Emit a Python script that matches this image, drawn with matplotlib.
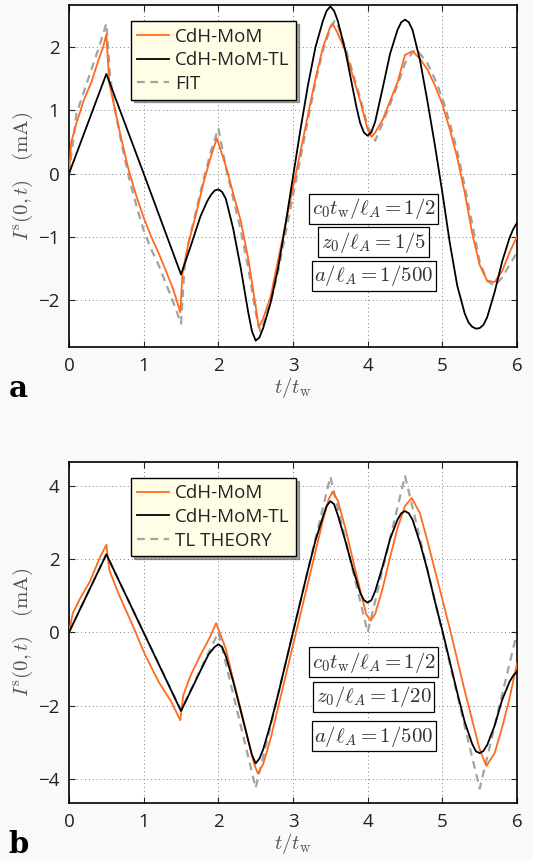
import matplotlib
matplotlib.use("Agg")
import matplotlib.pyplot as plt
from matplotlib.ticker import MultipleLocator

plt.rcParams['font.family'] = ['Open Sans', 'DejaVu Sans']
plt.rcParams['mathtext.fontset'] = 'cm'

# ---- panel a ----------------------------------------------------------
a_mom_t = [0.0, 0.03, 0.1, 0.2, 0.3, 0.4, 0.45, 0.5, 0.54, 0.6, 0.7, 0.8, 0.9, 1.0,
           1.1, 1.2, 1.3, 1.4, 1.49, 1.52, 1.6, 1.7, 1.8, 1.9, 1.98, 2.1, 2.2, 2.3,
           2.4, 2.5, 2.54, 2.6, 2.7, 2.8, 2.9, 3.0, 3.1, 3.2, 3.3, 3.4, 3.5, 3.53,
           3.6, 3.7, 3.8, 3.9, 4.0, 4.05, 4.1, 4.2, 4.3, 4.4, 4.5, 4.6, 4.7, 4.8,
           4.9, 5.0, 5.1, 5.2, 5.3, 5.4, 5.5, 5.6, 5.7, 5.8, 5.9, 6.0]
a_mom_v = [0.0, 0.5, 0.8, 1.17, 1.45, 1.82, 1.98, 2.2, 1.43, 1.1, 0.55, 0.05, -0.35, -0.7,
           -1.0, -1.26, -1.55, -1.85, -2.2, -1.57, -1.1, -0.65, -0.15, 0.27, 0.56, 0.12, -0.32, -0.75,
           -1.35, -2.1, -2.44, -2.3, -1.95, -1.37, -0.8, -0.22, 0.35, 0.93, 1.5, 2.0, 2.33, 2.38,
           2.22, 1.95, 1.55, 1.15, 0.7, 0.58, 0.65, 0.85, 1.15, 1.45, 1.88, 1.94, 1.82, 1.65,
           1.4, 1.1, 0.7, 0.25, -0.3, -0.95, -1.45, -1.7, -1.72, -1.55, -1.25, -1.0]

a_tl_t = [0.0, 0.5, 1.0, 1.5, 1.63, 1.76, 1.85, 1.9, 1.95, 2.0, 2.05, 2.1, 2.2, 2.3,
          2.35, 2.4, 2.45, 2.5, 2.55, 2.6, 2.7, 2.8, 2.9, 3.0, 3.1, 3.2, 3.3, 3.4,
          3.45, 3.5, 3.55, 3.6, 3.7, 3.8, 3.85, 3.9, 3.95, 4.0, 4.05, 4.1, 4.2, 4.3,
          4.4, 4.45, 4.5, 4.55, 4.6, 4.7, 4.8, 4.9, 5.0, 5.1, 5.2, 5.3, 5.35, 5.4,
          5.45, 5.5, 5.55, 5.6, 5.7, 5.8, 5.9, 5.95, 6.0]
a_tl_v = [0.0, 1.58, 0.0, -1.6, -1.15, -0.68, -0.44, -0.34, -0.27, -0.25, -0.29, -0.4, -0.88, -1.5,
          -1.85, -2.2, -2.5, -2.65, -2.6, -2.45, -2.05, -1.5, -0.8, -0.05, 0.7, 1.4, 2.0, 2.42,
          2.58, 2.65, 2.58, 2.42, 1.95, 1.35, 1.05, 0.8, 0.65, 0.6, 0.66, 0.82, 1.35, 1.9,
          2.28, 2.4, 2.44, 2.4, 2.28, 1.8, 1.15, 0.45, -0.3, -1.1, -1.78, -2.22, -2.36, -2.43,
          -2.46, -2.45, -2.4, -2.28, -1.88, -1.4, -1.02, -0.88, -0.78]

a_fit_t = [0.0, 0.1, 0.2, 0.3, 0.4, 0.5, 0.55, 0.6, 0.7, 0.8, 0.9, 1.0, 1.1, 1.2, 1.3,
           1.4, 1.5, 1.55, 1.6, 1.7, 1.8, 1.9, 2.0, 2.1, 2.2, 2.3, 2.4, 2.5, 2.56, 2.6,
           2.7, 2.8, 2.9, 3.0, 3.1, 3.2, 3.3, 3.4, 3.5, 3.56, 3.6, 3.7, 3.8, 3.9, 4.0,
           4.1, 4.2, 4.3, 4.4, 4.5, 4.6, 4.65, 4.7, 4.8, 4.9, 5.0, 5.1, 5.2, 5.3, 5.4,
           5.5, 5.6, 5.7, 5.8, 5.9, 6.0]
a_fit_v = [0.0, 0.95, 1.3, 1.65, 2.0, 2.38, 1.55, 1.1, 0.5, -0.05, -0.5, -0.9, -1.2, -1.45, -1.75,
           -2.05, -2.38, -1.45, -1.1, -0.6, -0.1, 0.35, 0.72, 0.1, -0.4, -0.9, -1.5, -2.2, -2.5, -2.4,
           -2.05, -1.55, -0.95, -0.35, 0.25, 0.85, 1.45, 1.95, 2.3, 2.43, 2.35, 2.0, 1.6, 1.2, 0.75,
           0.52, 0.8, 1.1, 1.4, 1.75, 1.92, 1.97, 1.9, 1.75, 1.5, 1.2, 0.8, 0.35, -0.2, -0.8,
           -1.4, -1.7, -1.78, -1.65, -1.45, -1.25]

# ---- panel b ----------------------------------------------------------
b_mom_t = [0.0, 0.05, 0.15, 0.28, 0.41, 0.5, 0.54, 0.67, 0.85, 1.02, 1.2, 1.37, 1.49, 1.53,
           1.63, 1.76, 1.89, 1.97, 2.1, 2.2, 2.3, 2.4, 2.48, 2.53, 2.6, 2.7, 2.8, 2.9, 3.0,
           3.1, 3.2, 3.3, 3.4, 3.48, 3.53, 3.6, 3.7, 3.8, 3.9, 3.98, 4.04, 4.1, 4.2, 4.3,
           4.4, 4.5, 4.59, 4.7, 4.8, 4.9, 5.0, 5.1, 5.2, 5.3, 5.4, 5.5, 5.59, 5.7, 5.8,
           5.9, 6.0]
b_mom_v = [0.0, 0.52, 0.93, 1.39, 2.03, 2.39, 1.7, 1.02, 0.2, -0.62, -1.35, -1.9, -2.4, -1.72,
           -1.17, -0.62, -0.12, 0.25, -0.45, -1.3, -2.1, -2.95, -3.6, -3.86, -3.6, -2.9, -2.05, -1.2, -0.35,
           0.5, 1.35, 2.2, 3.05, 3.65, 3.84, 3.6, 2.85, 2.0, 1.15, 0.5, 0.32, 0.5, 1.2, 2.05,
           2.85, 3.45, 3.67, 3.25, 2.5, 1.7, 0.9, 0.1, -0.75, -1.6, -2.4, -3.2, -3.65, -3.3, -2.6,
           -1.8, -0.85]

b_tl_t = [0.0, 0.5, 1.5, 1.63, 1.76, 1.87, 1.95, 2.0, 2.05, 2.1, 2.2, 2.3, 2.4, 2.45, 2.5,
          2.55, 2.6, 2.7, 2.8, 2.9, 3.0, 3.1, 3.2, 3.3, 3.4, 3.45, 3.5, 3.55, 3.6, 3.7,
          3.8, 3.9, 3.95, 4.0, 4.05, 4.1, 4.2, 4.3, 4.4, 4.45, 4.5, 4.55, 4.6, 4.7, 4.8,
          4.9, 5.0, 5.1, 5.2, 5.3, 5.4, 5.45, 5.5, 5.55, 5.6, 5.7, 5.8, 5.9, 5.95, 6.0]
b_tl_v = [0.0, 2.13, -2.15, -1.6, -1.05, -0.6, -0.4, -0.33, -0.4, -0.65, -1.35, -2.15, -2.95, -3.35, -3.58,
          -3.45, -3.2, -2.5, -1.7, -0.85, 0.0, 0.85, 1.7, 2.5, 3.15, 3.45, 3.58, 3.5, 3.2, 2.5,
          1.75, 1.08, 0.88, 0.81, 0.88, 1.12, 1.8, 2.55, 3.08, 3.25, 3.31, 3.25, 3.08, 2.45, 1.7,
          0.85, 0.05, -0.8, -1.65, -2.45, -3.05, -3.25, -3.3, -3.24, -3.08, -2.55, -1.85, -1.35, -1.18, -1.07]

b_th_t = [0.0, 0.5, 1.5, 2.0, 2.5, 3.5, 4.0, 4.5, 5.5, 6.0]
b_th_v = [0.0, 2.13, -2.13, 0.0, -4.25, 4.25, 0.0, 4.27, -4.27, 0.0]

# ---- labels ------------------------------------------------------------
legend_a = ["CdH-MoM", "CdH-MoM-TL", "FIT"]
legend_b = ["CdH-MoM", "CdH-MoM-TL", "TL THEORY"]
params_a = [r"$c_0t_{\rm w}/\ell_A=1/2$", r"$z_0/\ell_A=1/5$", r"$a/\ell_A=1/500$"]
params_b = [r"$c_0t_{\rm w}/\ell_A=1/2$", r"$z_0/\ell_A=1/20$", r"$a/\ell_A=1/500$"]

ORANGE = "#ff6a1c"
GREY = "#a3a3a3"


def draw_panel(ax, series, names, params, param_y, ylim, ystep, letter):
    (t1, v1), (t2, v2), (t3, v3) = series
    ax.plot(t1, v1, color=ORANGE, lw=1.3, label=names[0], zorder=3)
    ax.plot(t2, v2, color="black", lw=1.3, label=names[1], zorder=4)
    ax.plot(t3, v3, color=GREY, lw=1.6, ls=(0, (3.5, 2.5)), label=names[2], zorder=2)
    ax.set_xlim(0, 6)
    ax.set_ylim(*ylim)
    ax.xaxis.set_major_locator(MultipleLocator(1))
    ax.yaxis.set_major_locator(MultipleLocator(ystep))
    ax.grid(True, ls=(0, (1, 3)), color="#808080", lw=0.7)
    ax.tick_params(direction="in", top=True, right=True, labelsize=13.5, length=4,
                   colors="#222222", pad=7)
    ax.yaxis.set_major_formatter(plt.FuncFormatter(
        lambda v, p: f"{v:g}".replace("-", "\u2212")))
    for s in ax.spines.values():
        s.set_linewidth(1.2)
    ax.set_xlabel(r"$t/t_{\rm w}$", fontsize=15, color="#555555", labelpad=0)
    ax.set_ylabel(r"$I^{\rm s}(0,t)\quad(\mathrm{mA})$", fontsize=15, color="#555555",
                  labelpad=2)
    leg = ax.legend(loc="upper left", bbox_to_anchor=(0.138, 0.953), fontsize=13.5,
                    fancybox=False, shadow=True, framealpha=1, edgecolor="black",
                    facecolor="#fffde6", handlelength=1.7, handletextpad=0.3,
                    labelspacing=0.3, borderpad=0.35, borderaxespad=0.0)
    leg.get_frame().set_linewidth(1.0)
    for txt in leg.get_texts():
        txt.set_color("#222222")
    for s, y in zip(params, param_y):
        ax.text(0.68, y, s, transform=ax.transAxes, fontsize=15, ha="center", va="center",
                color="#333333",
                bbox=dict(boxstyle="square,pad=0.12", fc="white", ec="black", lw=0.9))
    ax.text(-0.135, -0.12, letter, transform=ax.transAxes, fontsize=21,
            fontweight="bold", family="DejaVu Serif", ha="left", va="center")


fig = plt.figure(figsize=(5.33, 8.61), dpi=100, facecolor="#f9f9f9")
ax_a = fig.add_axes([0.1295, 0.597, 0.8405, 0.397])
ax_b = fig.add_axes([0.1295, 0.067, 0.8405, 0.3968])

draw_panel(ax_a, [(a_mom_t, a_mom_v), (a_tl_t, a_tl_v), (a_fit_t, a_fit_v)],
           legend_a, params_a, [0.404, 0.307, 0.208], (-2.75, 2.67), 1, "a")
draw_panel(ax_b, [(b_mom_t, b_mom_v), (b_tl_t, b_tl_v), (b_th_t, b_th_v)],
           legend_b, params_b, [0.413, 0.312, 0.197], (-4.67, 4.66), 2, "b")

fig.savefig("out.png", dpi=100, facecolor=fig.get_facecolor())
